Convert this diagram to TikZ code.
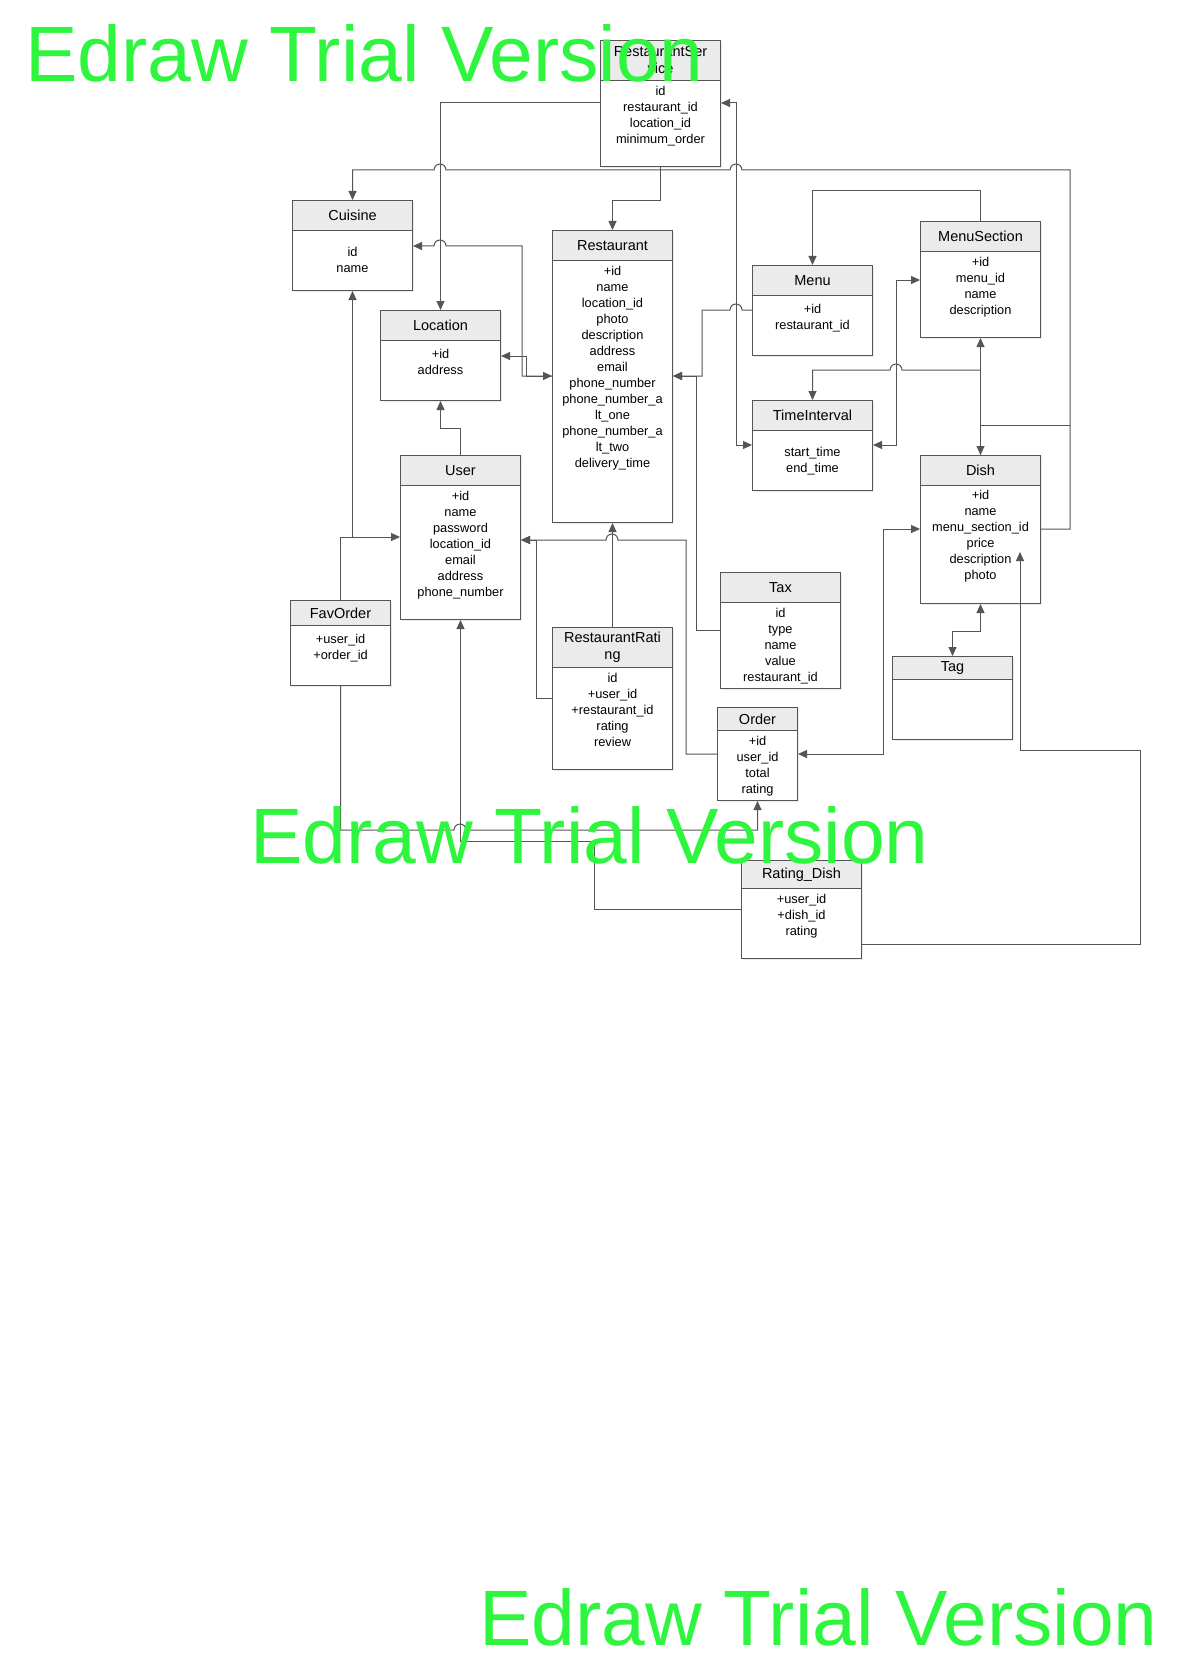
\documentclass[tikz,border=0pt]{standalone}
\usepackage{fontspec}
\setmainfont{Liberation Sans}
\usetikzlibrary{arrows.meta,positioning,shadows}

\definecolor{linegray}{RGB}{85,85,85}
\definecolor{headgray}{RGB}{235,235,235}
\definecolor{trialgreen}{RGB}{46,245,62}

\begin{document}
\begin{tikzpicture}[x=1pt,y=-1pt,
  head/.style={draw=linegray,fill=headgray,anchor=north west,inner sep=0pt,align=center,minimum width=120pt,minimum height=30pt,line width=1pt,font=\fontsize{14.5}{17}\selectfont,drop shadow={shadow xshift=1.5pt,shadow yshift=-1.5pt,fill=black!15}},
  body/.style={draw=linegray,fill=white,anchor=north west,inner sep=0pt,minimum width=120pt,line width=1pt,drop shadow={shadow xshift=1.5pt,shadow yshift=-1.5pt,fill=black!15}},
  fields/.style={anchor=north,inner sep=0pt,align=center,font=\fontsize{12.8}{16}\selectfont},
  conn/.style={draw=linegray,line width=1pt,-{Triangle[length=9pt,width=8pt]}},
  conn2/.style={draw=linegray,line width=1pt,{Triangle[length=9pt,width=8pt]}-{Triangle[length=9pt,width=8pt]}},
  wire/.style={draw=linegray,line width=1pt},
  trial/.style={anchor=base west,inner sep=0pt,text=trialgreen,font=\fontsize{78.6}{80}\selectfont}]

\useasboundingbox (0,0) rectangle (1188,1680);

% tables
\node[head,minimum height=40pt] (rsH) at (600,40) {RestaurantSer\\vice};
\node[body,minimum height=86pt] (rs) at (600,80) {};
\node[fields,below=6pt of rs.north] {id\\restaurant\_id\\location\_id\\minimum\_order};

\node[head] (cuiH) at (292,200) {Cuisine};
\node[body,minimum height=60pt] (cui) at (292,230) {};
\node[fields,below=17pt of cui.north] {id\\name};

\node[head] (restH) at (552,230) {Restaurant};
\node[body,minimum height=262pt] (rest) at (552,260) {};
\node[fields,below=6pt of rest.north] {+id\\name\\location\_id\\photo\\description\\address\\email\\phone\_number\\phone\_number\_a\\lt\_one\\phone\_number\_a\\lt\_two\\delivery\_time};

\node[head] (locH) at (380,310) {Location};
\node[body,minimum height=60pt] (loc) at (380,340) {};
\node[fields,below=9pt of loc.north] {+id\\address};

\node[head] (userH) at (400,455) {User};
\node[body,minimum height=134pt] (user) at (400,485) {};
\node[fields,below=6pt of user.north] {+id\\name\\password\\location\_id\\email\\address\\phone\_number};

\node[head,minimum width=100pt,minimum height=25pt] (favH) at (290,600) {FavOrder};
\node[body,minimum width=100pt,minimum height=60pt] (fav) at (290,625) {};
\node[fields,below=9pt of fav.north] {+user\_id\\+order\_id};

\node[head,minimum height=40pt] (rrH) at (552,627) {RestaurantRati\\ng};
\node[body,minimum height=102pt] (rr) at (552,667) {};
\node[fields,below=6pt of rr.north] {id\\+user\_id\\+restaurant\_id\\rating\\review};

\node[head] (taxH) at (720,572) {Tax};
\node[body,minimum height=86pt] (tax) at (720,602) {};
\node[fields,below=6pt of tax.north] {id\\type\\name\\value\\restaurant\_id};

\node[head,minimum width=80pt,minimum height=23pt] (orderH) at (717,707) {Order};
\node[body,minimum width=80pt,minimum height=70pt] (order) at (717,730) {};
\node[fields,below=6pt of order.north] {+id\\user\_id\\total\\rating};

\node[head] (menuH) at (752,265) {Menu};
\node[body,minimum height=60pt] (menu) at (752,295) {};
\node[fields,below=9pt of menu.north] {+id\\restaurant\_id};

\node[head] (msecH) at (920,221) {MenuSection};
\node[body,minimum height=86pt] (msec) at (920,251) {};
\node[fields,below=6pt of msec.north] {+id\\menu\_id\\name\\description};

\node[head] (tiH) at (752,400) {TimeInterval};
\node[body,minimum height=60pt] (ti) at (752,430) {};
\node[fields,below=17pt of ti.north] {start\_time\\end\_time};

\node[head] (dishH) at (920,455) {Dish};
\node[body,minimum height=118pt] (dish) at (920,485) {};
\node[fields,below=5.5pt of dish.north] {+id\\name\\menu\_section\_id\\price\\description\\photo};

\node[head,minimum height=23pt] (tagH) at (892,656) {Tag};
\node[body,minimum height=60pt] (tag) at (892,679) {};

\node[head,minimum height=28pt] (rdH) at (741,860) {Rating\_Dish};
\node[body,minimum height=70pt] (rd) at (741,888) {};
\node[fields,below=6pt of rd.north] {+user\_id\\+dish\_id\\rating};

\coordinate (dishIn) at (1020,552);

% links
\draw[conn] (rs.west |- 0,103) -| (locH.north);
\draw[conn] (rs.south) -- ++(0,34) -| (restH.north);
\draw[conn] (dish.east |- 0,529) -- (1070,529) -- (1070,170) -- (742,170) arc[start angle=0,end angle=180,radius=6pt] -- (446,170) arc[start angle=0,end angle=180,radius=6pt] -- (cuiH.north |- 0,170) -- (cuiH.north);
\draw[wire] (dishH.north) |- (1070,425);
\draw[conn2] (msec.south) -- (dishH.north);
\draw[conn] (msec.south |- 0,370) -- (902,370) arc[start angle=0,end angle=180,radius=6pt] -- (tiH.north |- 0,370) -- (tiH.north);
\draw[conn] (msecH.north) -- ++(0,-30) -| (menuH.north);
\draw[conn] (menu.west |- 0,310) -- (742,310) arc[start angle=0,end angle=180,radius=6pt] -- (702,310) -- (702,376) -- (rest.east |- 0,376);
\draw[conn] (tax.west |- 0,630) -| (696,376) -- (rest.east |- 0,376);
\draw[conn2] (rs.east |- 0,103) -| (736,445) -- (ti.west |- 0,445);
\draw[conn2] (msec.west |- 0,280) -| (896,445) -- (ti.east |- 0,445);
\draw[conn] (rest.west |- 0,376) -- (522,376) -- (522,246) -- (446,246) arc[start angle=0,end angle=180,radius=6pt] -- (cui.east |- 0,246);
\draw[conn2] (loc.east |- 0,356) -| (526,376) -- (rest.west |- 0,376);
\draw[conn] (userH.north) -- ++(0,-27) -| (loc.south);
\draw[conn] (favH.north) |- (user.west |- 0,537);
\draw[conn] (favH.north |- 0,537) -| (cui.south);
\draw[conn] (order.west |- 0,754) -| (686,540) -- (618,540) arc[start angle=0,end angle=180,radius=6pt] -- (user.east |- 0,540);
\draw[conn] (rr.west |- 0,698) -| (536,540) -- (user.east |- 0,540);
\draw[conn] (rrH.north) -- (rest.south);
\draw[conn2] (order.east |- 0,754) -| (883,529) -- (dish.west |- 0,529);
\draw[conn2] (dish.south) -- ++(0,27) -| (tagH.north);
\draw[conn] (rd.east |- 0,944) -| (1140,750) -| (dishIn);
\draw[conn] (rd.west |- 0,909) -| (594,841) -| (user.south);
\draw[conn] (fav.south) -- (fav.south |- 0,830) -- (454,830) arc[start angle=180,end angle=0,radius=6pt] -- (order.south |- 0,830) -- (order.south);

% trial stamps
\node[trial] (wm1) at (25,82) {Edraw Trial Version};
\node[trial] (wm2) at (250,863) {Edraw Trial Version};
\node[trial] (wm3) at (479,1645) {Edraw Trial Version};

\end{tikzpicture}
\end{document}
